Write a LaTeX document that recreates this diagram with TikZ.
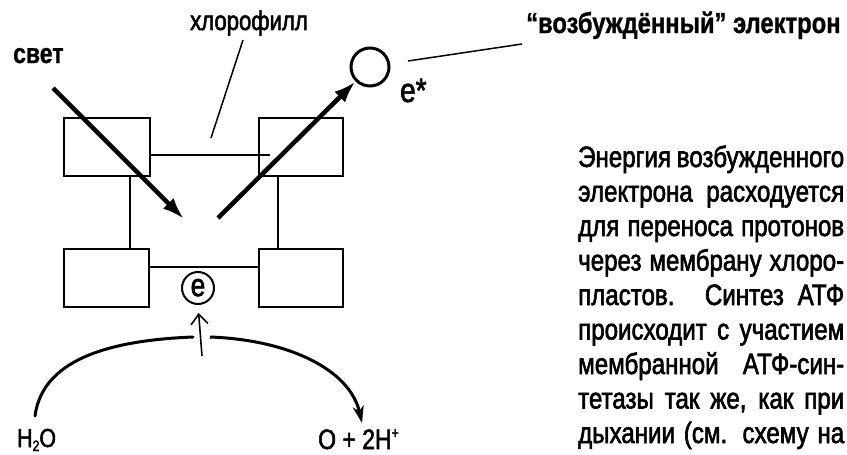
\documentclass[tikz,border=0pt]{standalone}
\usepackage{fontspec}
\setmainfont[FakeStretch=0.82,FakeBold=2,BoldFeatures={FakeBold=1}]{Liberation Sans}
\usetikzlibrary{arrows.meta}
\begin{document}
\begin{tikzpicture}[x=1pt,y=-1pt,
  box/.style={draw,line width=2pt,minimum width=86pt,minimum height=58pt,inner sep=0pt,anchor=north west},
  conn/.style={line width=2pt},
  thick arrow/.style={line width=4.5pt,-{Latex[length=22pt,width=15pt]}},
  lbl/.style={inner sep=0pt,anchor=base west},
  para/.style={inner sep=0pt,anchor=base west,font=\fontsize{29.4}{34}\selectfont}]
\useasboundingbox (0,0) rectangle (847,455);
\clip (0,0) rectangle (847,455);
% boxes
\node[box] (b1) at (63,117) {};
\node[box,minimum width=84pt] (b2) at (258,117) {};
\node[box,minimum width=85pt] (b3) at (63,248) {};
\node[box,minimum width=84pt] (b4) at (258,248) {};
% connectors between boxes
\coordinate (t1) at (149,155); \coordinate (t2) at (270,155);
\draw[conn] (t1) -- (t2);
\coordinate (v1a) at (130,175); \coordinate (v1b) at (130,248);
\coordinate (v2a) at (278,175); \coordinate (v2b) at (278,248);
\draw[conn] (v1a) -- (v1b);
\draw[conn] (v2a) -- (v2b);
\coordinate (h1) at (148,267); \coordinate (h2) at (258,267);
\draw[conn] (h1) -- (h2);
% circled e
\node[draw,circle,line width=2pt,minimum size=32pt,inner sep=0pt,font=\fontsize{32}{32}\selectfont] (ce) at (198,288) {\raisebox{1pt}{e}};
% up arrow
\coordinate (ua) at (202,356);
\draw[line width=1.6pt,shorten >=8pt,-{Straight Barb[length=10pt,width=17pt]}] (ua) -- (ce.south);
% arc
\coordinate (a1) at (35,416); \coordinate (a2) at (193,337);
\coordinate (a3) at (210,337); \coordinate (a4) at (362,423);
\draw[line width=3pt,line cap=round] (a1) .. controls (43,355) and (120,340) .. (a2);
\draw[line width=3pt,-{Stealth[length=17pt,width=11pt,inset=5pt]}] (a3) .. controls (290,340) and (350,370) .. (a4);
% labels bottom
\node[lbl,font=\fontsize{26}{30}\selectfont] (h2o) at (17,447) {H\raisebox{-4pt}{\fontsize{15}{15}\selectfont 2}O};
\node[lbl,font=\fontsize{28}{30}\selectfont] (prod) at (318,449) {O + 2H\raisebox{11pt}{\fontsize{15}{15}\selectfont +}};
% light arrow and excited electron arrow
\coordinate (l1) at (53,88); \coordinate (l2) at (184,219);
\draw[thick arrow] (l1) -- (l2);
\node[draw,circle,line width=3pt,minimum size=38pt,inner sep=0pt] (ex) at (370,67) {};
\coordinate (r1) at (218,218);
\draw[thick arrow] (r1) -- (ex.225);
\node[lbl,font=\fontsize{34}{34}\selectfont] (estar) at (400,102) {e*};
% top labels
\node[lbl,font=\fontsize{28}{30}\selectfont\bfseries] (svet) at (13,63) {свет};
\node[lbl,font=\fontsize{27}{30}\selectfont] (chl) at (190,30) {хлорофилл};
\coordinate (c1) at (243,40); \coordinate (c2) at (211,138);
\draw[line width=1.5pt] (c1) -- (c2);
\node[lbl,font=\fontsize{29}{30}\selectfont\bfseries] (exl) at (526,33) {“возбуждённый” электрон};
\coordinate (e1) at (408,61); \coordinate (e2) at (522,44);
\draw[line width=1.5pt] (e1) -- (e2);
% paragraph
\foreach \t [count=\i from 0] in {Энергия возбужденного,электрона расходуется,для переноса протонов,через мембрану хлоро-,пластов. Синтез АТФ,происходит с участием,мембранной АТФ-син-,{тетазы так же, как при},дыхании (см. схему на}
  \node[para] (p\i) at (578,167+34.5*\i) {\makebox[266pt][s]{\t}};
\end{tikzpicture}
\end{document}
